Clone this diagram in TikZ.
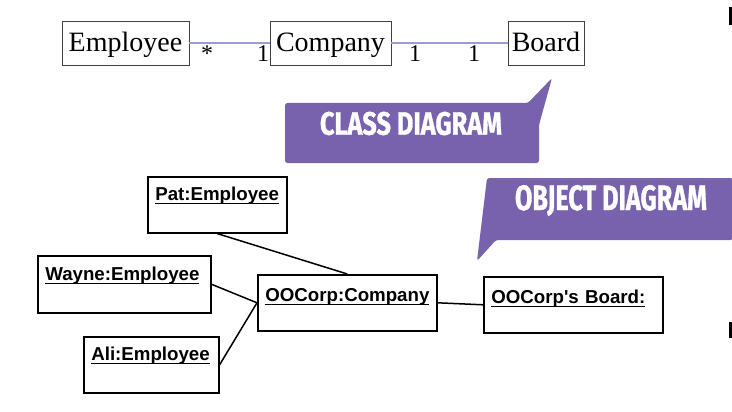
\documentclass[tikz,border=0pt]{standalone}
\usepackage{graphicx}
\usepackage{fontspec}
\setmainfont{Liberation Serif}
\newfontfamily\serifx{Liberation Serif}
\newfontfamily\sansx{Liberation Sans}
\newfontfamily\callfont{Fira Sans}[FakeBold=1.2]
\definecolor{callpurple}{RGB}{120,98,174}
\definecolor{assoc}{RGB}{156,156,212}
\newcommand\objul[1]{\setbox0\hbox{#1}\rlap{\rule[-3.4pt]{\wd0}{1.3pt}}\box0}
\begin{document}
\begin{tikzpicture}[x=1pt,y=-1pt,
  classbox/.style={draw=black!75, line width=0.9pt, inner sep=0pt, minimum height=44pt,
    text height=20pt, text depth=2pt, font=\serifx\fontsize{28}{30}\selectfont},
  mult/.style={anchor=base, inner sep=0pt, font=\serifx\fontsize{24}{26}\selectfont},
  assocline/.style={draw=assoc, line width=2pt},
  objbox/.style={draw=black, line width=1.6pt, anchor=north west, inner xsep=7.5pt,
    inner ysep=0pt, align=left, font=\sansx\bfseries\fontsize{18.7}{20}\selectfont},
  link/.style={draw=black, line width=1.5pt},
  callout/.style={fill=callpurple, draw=none, rounded corners=2.5pt},
  calltext/.style={text=white, inner sep=0pt}
]
\useasboundingbox (0,0) rectangle (732,412);

% class diagram
\node[classbox, minimum width=127pt] (employee) at (125.5,43) {Employee};
\node[classbox, minimum width=121pt] (company) at (330.5,43) {Company};
\node[classbox, minimum width=76pt] (board) at (546,43) {Board};
\draw[assocline] (employee.east) -- (company.west);
\draw[assocline] (company.east) -- (board.west);
\node[mult] (mstar) at (207,62) {*};
\node[mult] (mone) at (263,62) {1};
\node[mult] (mtwo) at (415,62) {1};
\node[mult] (mthree) at (474,62) {1};

% callouts
\fill[callout] (285,103) -- (528,103) -- (552,78) -- (539,125) -- (539,163) -- (285,163) -- cycle;
\node[calltext] (classlabel) at (411,123.5) {\resizebox{182pt}{23pt}{\callfont\bfseries CLASS DIAGRAM}};
\fill[callout] (487,178) -- (733,178) -- (733,240) -- (496,240) -- (477,261) -- cycle;
\node[calltext] (objlabel) at (611,200.5) {\resizebox{192pt}{25pt}{\callfont\bfseries OBJECT DIAGRAM}};

% object diagram
\node[objbox, text width=124pt, text height=24pt, text depth=32pt] (pat) at (147,176) {\objul{Pat:Employee}};
\node[objbox, text width=158pt, text height=25pt, text depth=32pt] (wayne) at (37,255) {\objul{Wayne:Employee}};
\node[objbox, text width=164pt, text height=27pt, text depth=29pt] (oocorp) at (257,274) {\objul{OOCorp:Company}};
\node[objbox, text width=120pt, text height=24pt, text depth=32pt] (ali) at (83,336) {\objul{Ali:Employee}};
\node[objbox, text width=164pt, text height=27pt, text depth=29pt] (ooboard) at (483,276) {\objul{OOCorp's Board:}};
\draw[link] (pat.south) -- (oocorp.north);
\draw[link] (wayne.east) -- (oocorp.west);
\draw[link] (ali.east) -- (oocorp.west);
\draw[link] (oocorp.east) -- (ooboard.west);

% edge marks
\fill[black] (729,7) rectangle (732,25);
\fill[black] (729,322) rectangle (732,338);
\end{tikzpicture}
\end{document}
